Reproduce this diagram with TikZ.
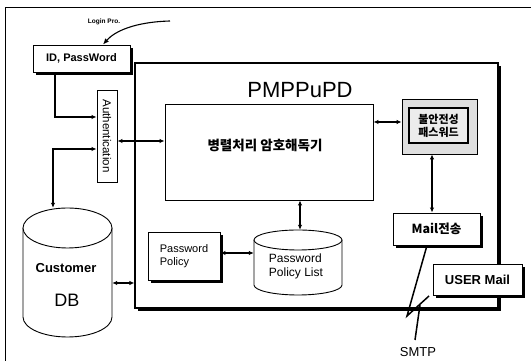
\documentclass[tikz,border=0pt]{standalone}
\usepackage{fontspec}
\setmainfont{Liberation Sans}
\newfontfamily\kr{Noto Sans CJK KR}
\usetikzlibrary{arrows.meta,calc,shadows}
\begin{document}
\begin{tikzpicture}[x=1pt,y=1pt,
  box/.style={draw, line width=0.9pt, fill=white, inner sep=0pt},
  shad/.style={drop shadow={shadow xshift=3pt, shadow yshift=-3pt, fill=black, opacity=1}},
  tip/.tip={Latex[length=5pt,width=4.5pt]},
  arr/.style={line width=1.5pt, {tip}-{tip}},
  onearr/.style={line width=1.5pt, -{tip}},
  cyl/.style={line width=0.9pt, fill=white},
]
\useasboundingbox (0,0) rectangle (531,361);

% outer frame (only top and left edges lie inside the page)
\draw[line width=0.8pt] (5,0) -- (5,354) -- (531,354);

% PMPPuPD system box
\node[box, shad, line width=1.2pt, minimum width=363pt, minimum height=245pt] (pmp) at (316.5,175.5) {};
\node[font=\fontsize{22}{26}\selectfont] (title) at (300,271) {PMPPuPD};

% login part
\node[box, shad, minimum width=97pt, minimum height=27pt, font=\bfseries\fontsize{11}{13}\selectfont] (id) at (81.5,302.5) {ID, PassWord};
\node[font=\bfseries\fontsize{6.5}{8}\selectfont] (login) at (104,339) {Login Pro.};
\coordinate (lpstart) at (170,340);
\draw[line width=1.1pt, -{Latex[length=6pt,width=5pt]}] (lpstart) .. controls (135,339) and (115,330) .. ([xshift=21.5pt]id.north);

\node[box, minimum width=20pt, minimum height=92pt, font=\fontsize{11.5}{13}\selectfont] (auth) at (107,225) {\rotatebox{-90}{Authentication}};

% customer database
\node[minimum width=89pt, minimum height=129pt, inner sep=0pt] (db) at (67.5,88.5) {};
\draw[cyl] (23,133) -- (23,44) arc[start angle=180, end angle=360, x radius=44.5, y radius=20] -- (112,133);
\draw[cyl] (67.5,133) ellipse[x radius=44.5, y radius=20];
\node[font=\bfseries\fontsize{13}{15}\selectfont] (dbt1) at (66,93) {Customer};
\node[font=\fontsize{18}{20}\selectfont] (dbt2) at (67,61) {DB};

% parallel cracker
\node[box, minimum width=208pt, minimum height=96pt] (dec) at (269,209) {};
\node[font=\kr\bfseries\fontsize{13.5}{16}\selectfont] (dectxt) at (265,216) {병렬처리 암호해독기};

% weak password box
\node[draw, line width=0.8pt, fill=gray!25, minimum width=75pt, minimum height=55pt] (weak) at (439.5,234.5) {};
\node[draw, line width=1.3pt, fill=gray!15, minimum width=59pt, minimum height=35pt, inner sep=0pt, align=center, font=\kr\bfseries\fontsize{11}{13}\selectfont] (weakin) at (438.5,235.5) {불안전성\\패스워드};

% mail
\node[box, shad, minimum width=87pt, minimum height=32pt, font=\kr\bfseries\fontsize{12.5}{15}\selectfont] (mail) at (436.5,132) {Mail전송};
\node[box, shad, minimum width=89pt, minimum height=31pt, font=\bfseries\fontsize{13}{15}\selectfont] (user) at (477.5,81.5) {USER Mail};

% password policy
\node[box, shad, minimum width=72pt, minimum height=48pt, align=left, font=\fontsize{11}{13}\selectfont] (pp) at (184,105) {Password\\Policy};
\draw[cyl] (254,121) -- (254,76) arc[start angle=180, end angle=360, x radius=44, y radius=10] -- (342,121);
\draw[cyl] (298,121) ellipse[x radius=44, y radius=10];
\node[minimum width=88pt, minimum height=65pt, inner sep=0pt] (ppl) at (298,98.5) {};
\node[align=left, font=\fontsize{12}{14}\selectfont] (pplt) at (296,95) {Password\\Policy List};

% connectors
\draw[onearr] ([xshift=-26.5pt]id.south) |- ([yshift=19pt]auth.west);
\draw[arr] ([yshift=-13pt]auth.west) -| ([xshift=-14.5pt]db.north);
\draw[arr] ([yshift=-5pt]auth.east) -- ([yshift=-5pt]auth.east -| dec.west);
\draw[arr] ([yshift=-10.5pt]db.east) -- ([yshift=-10.5pt]db.east -| pmp.west);
\draw[arr] ([yshift=30pt]dec.east) -- ([yshift=30pt]dec.east -| weak.west);
\draw[arr] ([xshift=-7.5pt]weak.south) -- ([xshift=-7.5pt]weak.south |- mail.north);
\draw[arr] ([yshift=3pt]pp.east) -- ([yshift=3pt]pp.east -| ppl.west);
\draw[arr] ([xshift=31pt]dec.south) -- ([xshift=31pt]dec.south |- ppl.north);

% SMTP link
\coordinate (z1) at (407,45);
\coordinate (z2) at (429,65);
\coordinate (z3) at (420,56);
\coordinate (z4) at (415,21);
\draw[line width=1.5pt, line join=miter] ([xshift=-9.5pt]mail.south) -- (z1) -- (z2);
\draw[line width=1.5pt] (z3) -- (z4);
\node[font=\fontsize{13}{15}\selectfont] (smtp) at (418,9) {SMTP};
\end{tikzpicture}
\end{document}
